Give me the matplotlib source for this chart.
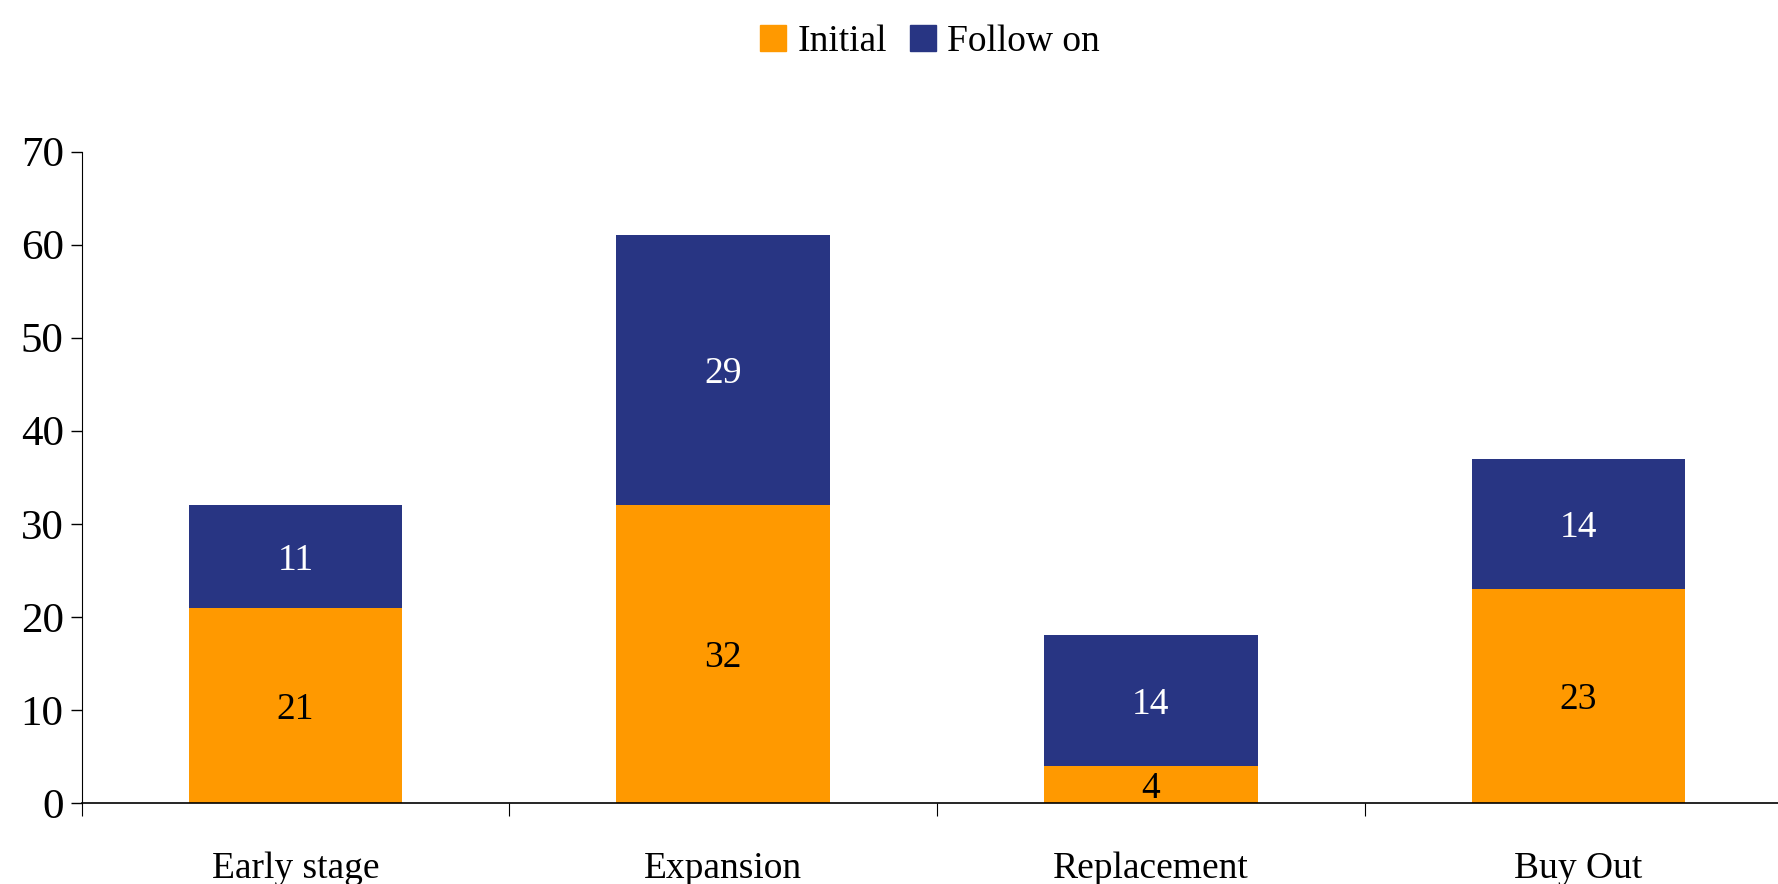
import numpy as np
import matplotlib.pyplot as plt
from matplotlib.patches import Patch

# data
categories = ["Early stage", "Expansion", "Replacement", "Buy Out"]
initial = [21, 32, 4, 23]
follow_on = [11, 29, 14, 14]

orange = "#FF9900"
navy = "#283583"

plt.rcParams['font.family'] = ['Liberation Serif', 'DejaVu Serif']

fig = plt.figure(figsize=(17.78, 8.84), dpi=100)
ax = fig.add_axes([0.046, 0.0916, 0.962, 0.737])

x = np.arange(len(categories))
b1 = ax.bar(x, initial, width=0.5, color=orange)
b2 = ax.bar(x, follow_on, width=0.5, bottom=initial, color=navy)

# labels inside the bars
for i in range(len(categories)):
    ax.text(x[i], initial[i] / 2, str(initial[i]), ha='center', va='center_baseline',
            fontsize=27, color='black')
    ax.text(x[i], initial[i] + follow_on[i] / 2, str(follow_on[i]), ha='center',
            va='center_baseline', fontsize=27, color='white')

ax.set_xlim(-0.5, len(categories) - 0.5)
ax.set_ylim(0, 70)
ax.set_yticks(range(0, 71, 10))
ax.tick_params(axis='y', labelsize=31, length=8, width=1, direction='out', pad=5)

# boundary ticks on x, labels centred between them
ax.set_xticks(np.arange(-0.5, len(categories), 1))
ax.set_xticklabels([])
ax.tick_params(axis='x', which='major', length=9, width=0.8, direction='out')
ax.set_xticks(x, minor=True)
ax.set_xticklabels(categories, minor=True)
ax.tick_params(axis='x', which='minor', length=0, labelsize=27, pad=35)

for s in ['top', 'right']:
    ax.spines[s].set_visible(False)
ax.spines['left'].set_linewidth(0.8)
ax.spines['bottom'].set_linewidth(1.2)

handles = [Patch(color=orange, label='Initial'), Patch(color=navy, label='Follow on')]
fig.legend(handles=handles, loc='upper center', bbox_to_anchor=(0.523, 1.01), ncol=2,
           frameon=False, fontsize=27, handlelength=0.7, handleheight=0.7,
           handletextpad=0.3, columnspacing=0.6)

fig.savefig("out.png", dpi=100)
